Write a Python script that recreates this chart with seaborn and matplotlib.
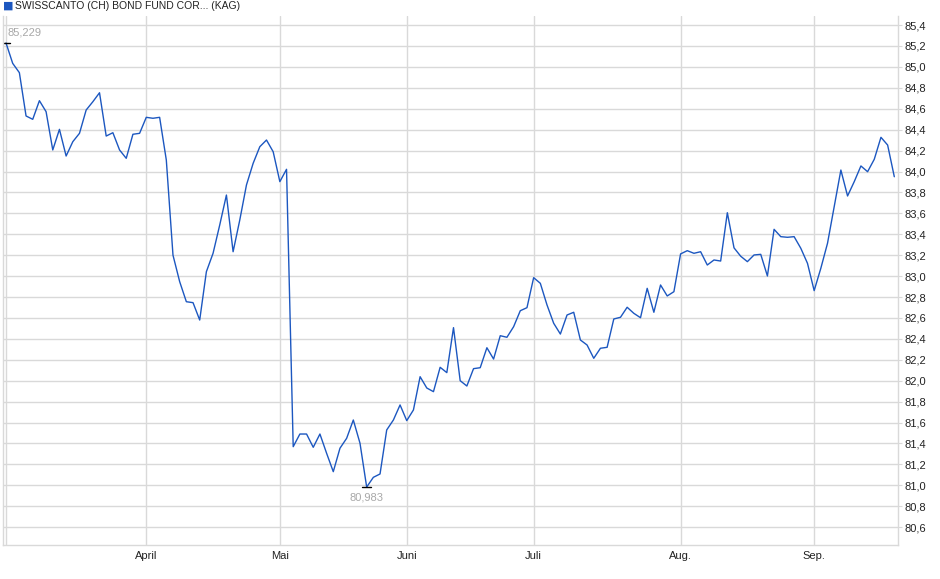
import numpy as np
import pandas as pd
import matplotlib
matplotlib.use("Agg")
import matplotlib.pyplot as plt
from matplotlib.ticker import FuncFormatter, MultipleLocator
import seaborn as sns

# Fund price series (one point per trading day)
prices = [
    85.229, 85.034, 84.945, 84.531, 84.499, 84.677, 84.572, 84.206, 84.403, 84.148,
    84.285, 84.365, 84.588, 84.667, 84.753, 84.339, 84.371, 84.206, 84.126, 84.356,
    84.365, 84.518, 84.509, 84.518, 84.110, 83.200, 82.947, 82.755, 82.746, 82.580,
    83.042, 83.218, 83.489, 83.775, 83.233, 83.536, 83.871, 84.078, 84.237, 84.301,
    84.189, 83.903, 84.021, 81.369, 81.490, 81.490, 81.363, 81.490, 81.306, 81.130,
    81.354, 81.449, 81.624, 81.402, 80.983, 81.076, 81.108, 81.529, 81.624, 81.768,
    81.618, 81.720, 82.038, 81.930, 81.895, 82.128, 82.077, 82.507, 82.000, 81.949,
    82.115, 82.124, 82.315, 82.207, 82.430, 82.415, 82.516, 82.669, 82.698, 82.985,
    82.931, 82.724, 82.549, 82.446, 82.628, 82.654, 82.389, 82.341, 82.214, 82.310,
    82.319, 82.590, 82.606, 82.702, 82.644, 82.602, 82.883, 82.654, 82.915, 82.810,
    82.851, 83.212, 83.243, 83.218, 83.233, 83.106, 83.154, 83.144, 83.606, 83.270,
    83.190, 83.138, 83.202, 83.208, 83.001, 83.447, 83.377, 83.371, 83.377, 83.266,
    83.122, 82.861, 83.075, 83.314, 83.663, 84.014, 83.766, 83.903, 84.053, 83.998,
    84.117, 84.327, 84.253, 83.950,
]

# first trading day of each month (index into prices)
month_pos = [21, 41, 60, 79, 101, 121]
month_labels = ["April", "Mai", "Juni", "Juli", "Aug.", "Sep."]

title = "SWISSCANTO (CH) BOND FUND COR... (KAG)"

df = pd.DataFrame({"day": np.arange(len(prices)), "price": prices})

sns.set_style("white")
plt.rcParams["font.family"] = ["Liberation Sans", "DejaVu Sans"]

grid_col = "#d9d9d9"
line_col = "#1c57c0"

fig = plt.figure(figsize=(9.4, 5.79), dpi=100)
ax = fig.add_axes([0.0032, 0.0582, 0.9521, 0.9142])

sns.lineplot(data=df, x="day", y="price", color=line_col, linewidth=1.0, ax=ax)

ax.set_xlim(-0.45, 133.55)
ax.set_ylim(80.426, 85.487)

# grid
ax.set_xticks(month_pos)
ax.set_xticklabels(month_labels)
ax.set_xticks([0], minor=True)
ax.yaxis.set_major_locator(MultipleLocator(0.2))
ax.grid(True, which="both", color=grid_col, linewidth=1.0)
ax.set_axisbelow(True)

ax.yaxis.tick_right()
ax.yaxis.set_major_formatter(FuncFormatter(lambda v, p: f"{v:.1f}".replace(".", ",")))
ax.tick_params(axis="y", which="major", length=3, color=grid_col, pad=2,
               labelsize=8, labelcolor="#222222")
ax.tick_params(axis="x", which="major", length=0, pad=4, labelsize=8, labelcolor="#222222")
ax.tick_params(axis="x", which="minor", length=0)
ax.set_xlabel("")
ax.set_ylabel("")

for side in ["left", "right", "top", "bottom"]:
    ax.spines[side].set_color(grid_col)
    ax.spines[side].set_linewidth(1.0)
ax.spines["top"].set_visible(False)

# max / min markers
imax = int(np.argmax(prices))
imin = int(np.argmin(prices))
ax.plot([imax - 0.6, imax + 0.6], [prices[imax]] * 2, color="black", lw=1.0)
ax.plot([imin - 0.7, imin + 0.7], [prices[imin]] * 2, color="black", lw=1.0)
ax.annotate(f"{prices[imax]:.3f}".replace(".", ","), (imax, prices[imax]),
            xytext=(1, 4), textcoords="offset points", ha="left", va="bottom",
            fontsize=8, color="#a8a8a8")
ax.annotate(f"{prices[imin]:.3f}".replace(".", ","), (imin, prices[imin]),
            xytext=(0, -4), textcoords="offset points", ha="center", va="top",
            fontsize=8, color="#a8a8a8")

# legend-like title
fig.text(0.0035, 0.9895, "\u25A0", color=line_col, fontsize=8, ha="left", va="center",
         family=["DejaVu Sans"])
fig.text(0.016, 0.9895, title, fontsize=7.5, ha="left", va="center", color="#222222")

fig.savefig("out.png", dpi=100)
